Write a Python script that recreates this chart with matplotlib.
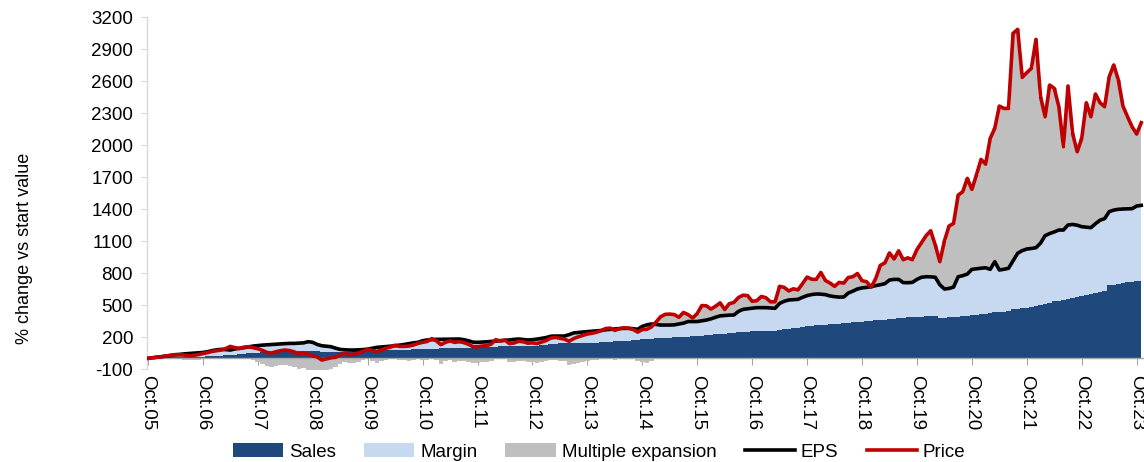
import matplotlib
matplotlib.use("Agg")
import matplotlib.pyplot as plt
import numpy as np
from matplotlib.patches import Patch
from matplotlib.lines import Line2D

plt.rcParams['font.family'] = ['Liberation Sans', 'DejaVu Sans']
plt.rcParams['axes.unicode_minus'] = False

# Monthly observations, Oct 2005 .. Nov 2023 (% change vs start value)
tick_labels = ["Oct.05", "Oct.06", "Oct.07", "Oct.08", "Oct.09", "Oct.10", "Oct.11",
               "Oct.12", "Oct.13", "Oct.14", "Oct.15", "Oct.16", "Oct.17", "Oct.18",
               "Oct.19", "Oct.20", "Oct.21", "Oct.22", "Oct.23"]

price = [
    0, 5, 10, 15, 22, 28, 35, 33, 30, 25, 28, 35,
    45, 53, 65, 72, 78, 92, 112, 100, 92, 105, 109, 100,
    90, 75, 55, 50, 62, 72, 78, 72, 60, 42, 50, 40,
    25, 12, -16, -5, 5, 10, 31, 50, 33, 38, 50, 65,
    84, 74, 62, 78, 95, 105, 123, 112, 112, 115, 125, 140,
    150, 158, 185, 165, 128, 150, 163, 150, 156, 148, 132, 110,
    108, 115, 118, 134, 175, 162, 170, 138, 144, 160, 155, 142,
    145, 138, 152, 167, 190, 197, 188, 180, 160, 185, 202, 215,
    228, 235, 245, 259, 280, 283, 262, 278, 287, 283, 270, 246,
    270, 272, 295, 340, 390, 412, 415, 410, 385, 430, 410, 378,
    420, 495, 492, 462, 488, 520, 458, 512, 524, 570, 592, 588,
    535, 540, 580, 568, 530, 530, 675, 665, 632, 652, 642, 700,
    762, 742, 740, 805, 730, 706, 675, 712, 705, 758, 765, 795,
    728, 718, 668, 748, 872, 895, 988, 932, 1008, 925, 942, 925,
    1020, 1085, 1150, 1196, 1062, 906, 1100, 1240, 1265, 1530, 1562, 1687,
    1584, 1720, 1865, 1821, 2062, 2156, 2365, 2343, 2343, 3047, 3084, 2634,
    2678, 2719, 2990, 2453, 2265, 2562, 2531, 2359, 1984, 2553, 2109, 1937,
    2062, 2396, 2265, 2478, 2396, 2359, 2640, 2750, 2609, 2365, 2265, 2171,
    2103, 2209,
]

eps = [
    0, 5, 10, 16, 22, 28, 33, 38, 42, 45, 48, 52,
    55, 62, 72, 80, 84, 82, 78, 88, 94, 100, 108, 115,
    120, 124, 127, 130, 133, 135, 138, 140, 140, 142, 145, 156,
    150, 130, 118, 113, 109, 95, 84, 80, 78, 78, 80, 82,
    86, 95, 103, 106, 110, 114, 118, 124, 130, 138, 145, 150,
    165, 172, 175, 178, 178, 179, 180, 181, 181, 175, 165, 152,
    150, 152, 155, 158, 162, 166, 170, 172, 178, 181, 176, 172,
    175, 180, 187, 195, 207, 209, 209, 209, 222, 238, 243, 247,
    250, 254, 258, 261, 268, 272, 276, 279, 281, 281, 278, 272,
    300, 314, 322, 318, 312, 312, 312, 314, 322, 330, 345, 345,
    345, 352, 359, 370, 385, 398, 402, 405, 406, 440, 459, 465,
    470, 475, 475, 475, 472, 469, 515, 535, 547, 550, 553, 572,
    588, 598, 603, 602, 597, 585, 578, 574, 575, 612, 630, 650,
    660, 665, 671, 682, 690, 700, 734, 740, 740, 710, 709, 712,
    740, 760, 765, 764, 760, 690, 650, 655, 668, 765, 775, 790,
    834, 840, 845, 849, 834, 906, 828, 835, 844, 915, 985, 1010,
    1025, 1030, 1037, 1080, 1150, 1170, 1185, 1203, 1203, 1250, 1255, 1248,
    1234, 1230, 1225, 1262, 1295, 1310, 1375, 1390, 1397, 1400, 1401, 1403,
    1428, 1434,
]

sales = [
    0, 2, 4, 6, 8, 10, 11, 12, 13, 14, 15, 15,
    16, 18, 20, 22, 24, 27, 30, 34, 38, 42, 46, 50,
    54, 57, 60, 62, 64, 66, 68, 70, 70, 70, 70, 70,
    68, 66, 64, 62, 62, 62, 62, 63, 64, 66, 68, 70,
    72, 73, 74, 75, 76, 77, 78, 79, 80, 82, 85, 87,
    89, 90, 91, 92, 93, 94, 95, 96, 97, 98, 99, 100,
    102, 104, 106, 108, 110, 112, 114, 115, 115, 115, 115, 115,
    116, 118, 122, 126, 132, 138, 140, 141, 142, 143, 144, 145,
    146, 147, 148, 150, 153, 156, 158, 160, 163, 166, 170, 175,
    180, 182, 184, 186, 188, 190, 193, 196, 198, 200, 202, 205,
    210, 214, 218, 221, 224, 228, 230, 233, 238, 248, 250, 251,
    252, 253, 254, 255, 257, 259, 270, 274, 278, 283, 288, 293,
    300, 304, 308, 312, 316, 320, 323, 326, 330, 334, 338, 342,
    345, 348, 352, 356, 358, 362, 368, 372, 376, 380, 385, 388,
    390, 392, 395, 397, 397, 382, 381, 383, 386, 390, 394, 398,
    402, 408, 414, 420, 425, 430, 434, 438, 443, 460, 465, 470,
    475, 480, 488, 498, 512, 522, 535, 542, 550, 558, 565, 575,
    587, 595, 602, 609, 618, 628, 685, 690, 700, 708, 712, 716,
    722, 728,
]

c_sales = "#1F497D"
c_margin = "#C6D9F1"
c_mult = "#BFBFBF"
c_eps = "#000000"
c_price = "#C00000"

P = np.array(price, float)
E = np.array(eps, float)
S = np.array(sales, float)
margin = E - S
mult = P - E
x = np.arange(len(P))

fig = plt.figure(figsize=(11.44, 4.62), dpi=100)
ax = fig.add_axes([147 / 1144, 1 - 369 / 462, 997 / 1144, 352 / 462])

# stacked columns (gap width 0): positives stack upward, negatives downward
pos_m = np.clip(mult, 0, None)
neg_m = np.clip(mult, None, 0)
ax.fill_between(x, 0, S, step='mid', color=c_sales, lw=0, zorder=2)
ax.fill_between(x, S, S + margin, step='mid', color=c_margin, lw=0, zorder=2)
ax.fill_between(x, S + margin, S + margin + pos_m, step='mid', color=c_mult, lw=0, zorder=2)
ax.fill_between(x, 0, neg_m, step='mid', color=c_mult, lw=0, zorder=2)

ax.plot(x, E, color=c_eps, lw=2.6, zorder=4, solid_joinstyle='round')
ax.plot(x, P, color=c_price, lw=2.6, zorder=5, solid_joinstyle='round')

ax.set_ylim(-100, 3200)
ax.set_yticks(np.arange(-100, 3201, 300))
ax.set_xlim(-0.2, 217.6)
ax.set_xticks(np.arange(0, len(tick_labels) * 12, 12))
ax.set_xticklabels(tick_labels)

for s in ['top', 'right']:
    ax.spines[s].set_visible(False)
ax.spines['left'].set_color('#D9D9D9')
ax.spines['left'].set_linewidth(1.0)
ax.spines['bottom'].set_position(('data', 0))
ax.spines['bottom'].set_color('#A6A6A6')
ax.spines['bottom'].set_linewidth(1.0)
ax.spines['bottom'].set_zorder(3)

ax.tick_params(axis='y', direction='out', length=4, color='#D9D9D9', labelsize=13.5, pad=6)
ax.tick_params(axis='x', direction='out', length=5, color='#A6A6A6', labelsize=13.5, pad=7)
for lab in ax.get_xticklabels():
    lab.set_rotation(-90)
    lab.set_ha('center')
    lab.set_va('top')

fig.text(25 / 1144, 1 - 248 / 462, '% change vs start value', rotation=90,
         ha='center', va='center', fontsize=13)

handles = [Patch(facecolor=c_sales, label='Sales'),
           Patch(facecolor=c_margin, label='Margin'),
           Patch(facecolor=c_mult, label='Multiple expansion'),
           Line2D([], [], color=c_eps, lw=2.6, label='EPS'),
           Line2D([], [], color=c_price, lw=2.6, label='Price')]
fig.legend(handles=handles, loc='center', bbox_to_anchor=(599 / 1144, 1 - 452 / 462),
           ncol=5, frameon=False, fontsize=13.5, handlelength=2.7, handletextpad=0.3,
           columnspacing=1.5, borderpad=0)

fig.savefig('out.png', dpi=100)
